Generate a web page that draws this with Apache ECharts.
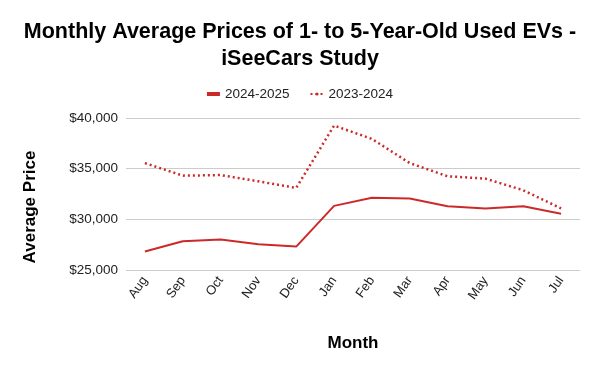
<!DOCTYPE html>
<html><head><meta charset="utf-8">
<script src="https://cdn.jsdelivr.net/npm/echarts@6/dist/echarts.min.js"></script>
<style>html,body{margin:0;padding:0;background:#fff}#c{width:600px;height:371px}</style>
</head><body><div id="c"></div>
<script>
const months = ['Aug','Sep','Oct','Nov','Dec','Jan','Feb','Mar','Apr','May','Jun','Jul'];
const s2024_2025 = [26820, 27840, 28000, 27550, 27310, 31330, 32120, 32060, 31300, 31080, 31300, 30550];
const s2023_2024 = [35550, 34310, 34370, 33750, 33100, 39250, 37940, 35550, 34250, 34020, 32870, 31080];
const yTicks = [25000, 30000, 35000, 40000];
const FONT = '"Liberation Sans", Arial, sans-serif';
const RED = '#cc2a2a';
const chart = echarts.init(document.getElementById('c'), null, {renderer:'canvas'});
chart.setOption({
  animation:false,
  textStyle:{fontFamily:FONT},
  title:{text:'Monthly Average Prices of 1- to 5-Year-Old Used EVs -\niSeeCars Study', left:'center', top:14,
    textStyle:{fontFamily:FONT, fontSize:21.5, fontWeight:'bold', color:'#000', lineHeight:27}},
  legend:{top:82, left:'center', itemWidth:13, itemHeight:4, itemGap:20,
    textStyle:{fontFamily:FONT, fontSize:13.5, color:'#222'},
    data:[{name:'2024-2025', icon:'rect'}, {name:'2023-2024'}]},
  grid:{left:126, right:20, top:118, bottom:101, containLabel:false},
  xAxis:{type:'category', data:months, boundaryGap:true,
    axisLine:{show:false}, axisTick:{show:false},
    axisLabel:{rotate:55, fontSize:13, color:'#222', fontFamily:FONT, margin:8},
    name:'Month', nameLocation:'middle', nameGap:65,
    nameTextStyle:{fontFamily:FONT, fontSize:17, fontWeight:'bold', color:'#000'}},
  yAxis:{type:'value', min:yTicks[0], max:yTicks[yTicks.length-1], interval:5000,
    axisLine:{show:false}, axisTick:{show:false},
    splitLine:{lineStyle:{color:'#cccccc', width:1}},
    axisLabel:{fontSize:13.5, color:'#222', fontFamily:FONT, margin:8,
      formatter:v=>'$'+v.toLocaleString('en-US')}},
  graphic:[{type:'text', x:30, y:207, rotation:Math.PI/2,
    style:{text:'Average Price', fontFamily:FONT, fontSize:17, fontWeight:'bold', fill:'#000',
      align:'center', verticalAlign:'middle'}}],
  series:[
    {name:'2024-2025', type:'line', data:s2024_2025, showSymbol:false, symbol:'none',
      lineStyle:{color:RED, width:2}, itemStyle:{color:RED}},
    {name:'2023-2024', type:'line', data:s2023_2024, showSymbol:false, symbol:'none',
      lineStyle:{color:RED, width:2.5, type:[2,3]}, itemStyle:{color:RED}}
  ]
});
</script></body></html>
